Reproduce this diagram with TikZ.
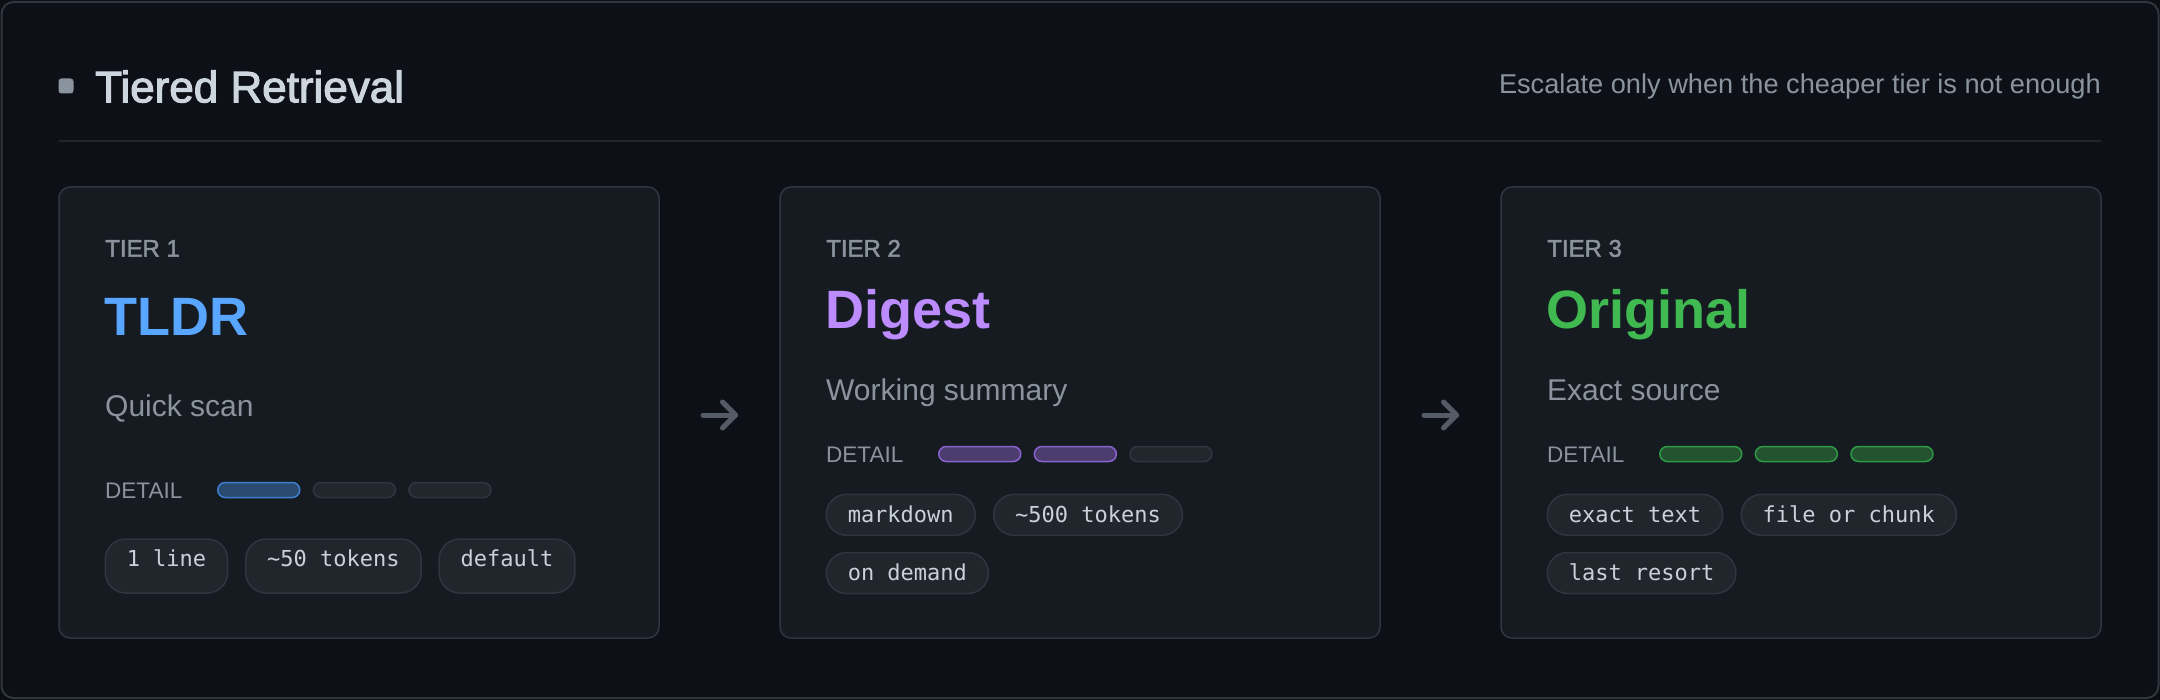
\documentclass[tikz,border=0pt]{standalone}
\usepackage{fontspec}
\setmainfont{Liberation Sans}
\newfontfamily\semib{Liberation Sans}[FakeBold=2.5]
\newfontfamily\semibs{Liberation Sans}[FakeBold=2]
\newfontfamily\monof{DejaVu Sans Mono}
\usetikzlibrary{positioning,calc}
\definecolor{pagebg}{HTML}{0B0E13}
\definecolor{framebg}{HTML}{0D1117}
\definecolor{frameline}{HTML}{30363D}
\definecolor{dividerc}{HTML}{21262D}
\definecolor{cardbg}{HTML}{161B22}
\definecolor{cardline}{HTML}{30363D}
\definecolor{headtext}{HTML}{CDD5DE}
\definecolor{muted}{HTML}{8B949E}
\definecolor{tblue}{HTML}{58A6FF}
\definecolor{tpurple}{HTML}{BC8CFF}
\definecolor{tgreen}{HTML}{3FB950}
\definecolor{barbluef}{HTML}{2B4A70}
\definecolor{barbluel}{HTML}{3D7FD0}
\definecolor{barpurpf}{HTML}{4C3D6E}
\definecolor{barpurpl}{HTML}{8A62D0}
\definecolor{bargreenf}{HTML}{245332}
\definecolor{bargreenl}{HTML}{2F9A44}
\definecolor{baroff}{HTML}{22272E}
\definecolor{baroffl}{HTML}{30363D}
\definecolor{tagbg}{HTML}{21262D}
\definecolor{tagline}{HTML}{30363D}
\definecolor{tagtext}{HTML}{C9D1D9}
\definecolor{arrowc}{HTML}{545B66}
\tikzset{
  card/.style={draw=cardline, fill=cardbg, line width=1.5pt, rounded corners=11pt,
    minimum width=600pt, minimum height=451pt, inner sep=0pt},
  tierlbl/.style={anchor=base west, inner sep=0pt, text=muted, font=\semibs\fontsize{24}{28}\selectfont},
  tiername/.style={anchor=base west, inner sep=0pt, font=\bfseries\fontsize{54}{60}\selectfont},
  desc/.style={anchor=base west, inner sep=0pt, text=muted, font=\fontsize{30}{36}\selectfont},
  detail/.style={anchor=base west, inner sep=0pt, text=muted, font=\fontsize{22.5}{26}\selectfont},
  bar/.style={rounded corners=7.5pt, minimum width=82pt, minimum height=15pt, inner sep=0pt,
    line width=1.5pt, anchor=west},
  baroffst/.style={bar, draw=baroffl, fill=baroff},
  barblue/.style={bar, draw=barbluel, fill=barbluef},
  barpurp/.style={bar, draw=barpurpl, fill=barpurpf},
  bargreen/.style={bar, draw=bargreenl, fill=bargreenf},
  tag/.style={draw=tagline, fill=tagbg, line width=1.5pt, rounded corners=20.5pt, text=tagtext,
    font=\monof\fontsize{22}{26}\selectfont, inner xsep=21.5pt, inner ysep=0pt,
    text height=15pt, anchor=west},
  tagtall/.style={tag, minimum height=54pt, text depth=15pt},
  tagrow/.style={tag, minimum height=41pt, text depth=0pt},
  arr/.style={draw=arrowc, line width=5pt, line cap=round, line join=round},
}
\begin{document}
\begin{tikzpicture}[x=1pt, y=-1pt]
\useasboundingbox (0,0) rectangle (2160,700);
\fill[pagebg] (0,0) rectangle (2160,700);
\draw[draw=frameline, fill=framebg, line width=2pt, rounded corners=12pt] (1.5,2) rectangle (2158.5,698);

% header
\node[fill=muted, rounded corners=3pt, minimum size=15pt, inner sep=0pt] (mark) at (66,86) {};
\node[anchor=base west, inner sep=0pt, text=headtext, font=\semib\fontsize{44}{50}\selectfont] (title) at (95,102.3) {Tiered Retrieval};
\node[anchor=base east, inner sep=0pt, text=muted, font=\fontsize{27.2}{31}\selectfont] (sub) at (2101,94) {Escalate only when the cheaper tier is not enough};
\draw[dividerc, line width=2pt] (59,141) -- (2101,141);

% cards
\node[card] (c1) at (359,412.5) {};
\node[card] (c2) at (1080,412.5) {};
\node[card] (c3) at (1801,412.5) {};

% card 1
\node[tierlbl] (k1) at (105,256.7) {TIER 1};
\node[tiername, text=tblue] (n1) at (104,336) {TLDR};
\node[desc] (d1) at (105,416) {Quick scan};
\node[detail] (e1) at (105,498.3) {DETAIL};
\node[barblue] (b11) at (217,490) {};
\node[baroffst] (b12) at (312.6,490) {};
\node[baroffst] (b13) at (408.2,490) {};
\node[tagtall] (t11) at (104.5,566) {1 line};
\node[tagtall, right=16.5pt of t11] (t12) {\textasciitilde50 tokens};
\node[tagtall, right=16.5pt of t12] (t13) {default};

% card 2
\node[tierlbl] (k2) at (826,256.7) {TIER 2};
\node[tiername, text=tpurple] (n2) at (825,328.3) {Digest};
\node[desc] (d2) at (826,400) {Working summary};
\node[detail] (e2) at (826,462.7) {DETAIL};
\node[barpurp] (b21) at (938,454) {};
\node[barpurp] (b22) at (1033.6,454) {};
\node[baroffst] (b23) at (1129.2,454) {};
\node[tagrow] (t21) at (825.5,514.8) {markdown};
\node[tagrow, right=17pt of t21] (t22) {\textasciitilde500 tokens};
\node[tagrow] (t23) at (825.5,573) {on demand};

% card 3
\node[tierlbl] (k3) at (1547,256.7) {TIER 3};
\node[tiername, text=tgreen] (n3) at (1546,328.3) {Original};
\node[desc] (d3) at (1547,400) {Exact source};
\node[detail] (e3) at (1547,462.7) {DETAIL};
\node[bargreen] (b31) at (1659,454) {};
\node[bargreen] (b32) at (1754.6,454) {};
\node[bargreen] (b33) at (1850.2,454) {};
\node[tagrow] (t31) at (1546.5,514.8) {exact text};
\node[tagrow, right=17pt of t31] (t32) {file or chunk};
\node[tagrow] (t33) at (1546.5,573) {last resort};

% arrows between cards
\coordinate (m1) at ($(c1.east)!0.5!(c2.west)$);
\coordinate (m2) at ($(c2.east)!0.5!(c3.west)$);
\coordinate (a1s) at ($(m1)+(-16.5,2.5)$);
\coordinate (a1e) at ($(m1)+(16,2.5)$);
\coordinate (a2s) at ($(m2)+(-16.5,2.5)$);
\coordinate (a2e) at ($(m2)+(16,2.5)$);
\draw[arr] (a1s) -- (a1e);
\draw[arr] ($(a1e)+(-13,-13)$) -- (a1e) -- ($(a1e)+(-13,13)$);
\draw[arr] (a2s) -- (a2e);
\draw[arr] ($(a2e)+(-13,-13)$) -- (a2e) -- ($(a2e)+(-13,13)$);
\end{tikzpicture}
\end{document}
